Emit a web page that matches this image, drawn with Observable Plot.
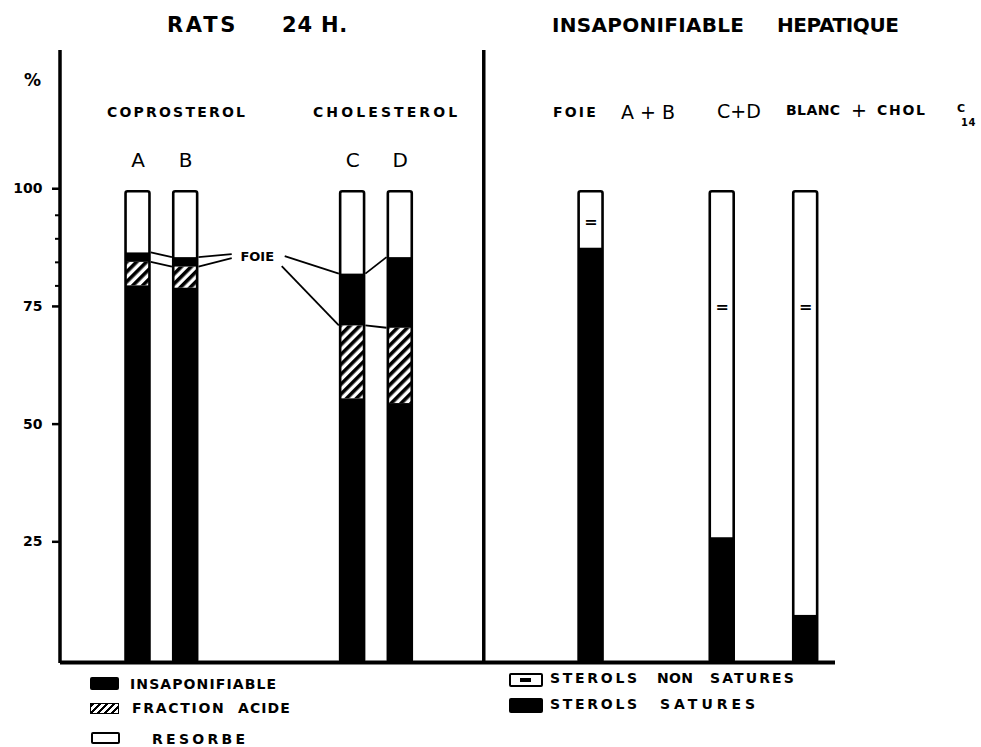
<!DOCTYPE html>
<html><head><meta charset="utf-8">
<script src="https://cdn.jsdelivr.net/npm/d3@7"></script>
<script src="https://cdn.jsdelivr.net/npm/@observablehq/plot@0.6"></script>
<style>
body{margin:0;background:#fff;}
#wrap{position:relative;width:981px;height:747px;font-family:"DejaVu Sans",sans-serif;font-weight:bold;color:#000;}
.t{position:absolute;white-space:nowrap;line-height:1;}
.sw{position:absolute;box-sizing:border-box;}
</style></head><body><div id="wrap"></div>
<script>
// ---- data (% ) ----
const leftBars = ["A", "B", "C", "D"];
const insaponifiable = [80, 79.5, 56, 55];      // black bottom
const fractionAcide = [5, 4.5, 15.5, 16];       // hatched
const foieBand = [2, 2, 11, 15];                // black band "FOIE"
const rightBars = ["A+B", "C+D", "BLANC"];
const sterolsSatures = [88, 26.5, 10];          // black bottom
const nonSatMarkAt = [93.5, 75.5, 75.5];        // "=" symbol level
const total = 100;
const yTicks = [25, 50, 75, 100];
const yMinorTicks = [80, 85, 90, 95];
const foieLabelLevel = 86.2;

// ---- layout: band slots ----
const slotOf = {A: 6, B: 10, FOIE: 16, C: 24, D: 28, DIV: 35, "A+B": 44, "C+D": 55, BLANC: 62};
const nameAt = Object.fromEntries(Object.entries(slotOf).map(([k, v]) => [v, k]));
const slots = d3.range(65).map(i => nameAt[i] ?? "s" + i);
const inset = -6;

// ---- segments ----
const blackSeg = [], hatchSeg = [], whiteSeg = [];
leftBars.forEach((b, i) => {
  const a = insaponifiable[i], h = a + fractionAcide[i], f = h + foieBand[i];
  blackSeg.push({bar: b, y1: 0, y2: a});
  hatchSeg.push({bar: b, y1: a, y2: h});
  blackSeg.push({bar: b, y1: h, y2: f});
  whiteSeg.push({bar: b, y1: f, y2: total});
});
rightBars.forEach((b, i) => {
  blackSeg.push({bar: b, y1: 0, y2: sterolsSatures[i]});
  whiteSeg.push({bar: b, y1: sterolsSatures[i], y2: total});
});
const outlines = [...leftBars, ...rightBars].map(b => ({bar: b, v: total}));
const marks = rightBars.map((b, i) => ({bar: b, v: nonSatMarkAt[i]}));

function extraLines(index, scales, values, dim) {
  const x = scales.x, y = scales.y;
  const bw = x(slots[1]) - x(slots[0]);
  const half = bw / 2 - inset + 1.3;
  const cx = k => x(k) + bw / 2;
  const L = k => cx(k) - half, R = k => cx(k) + half;
  const lvl = leftBars.map((b, i) => ({
    hatchTop: insaponifiable[i] + fractionAcide[i],
    foieTop: insaponifiable[i] + fractionAcide[i] + foieBand[i]
  }));
  const lx = cx("FOIE"), ly = y(foieLabelLevel);
  const segs = [
    [R("A"), y(lvl[0].foieTop), L("B"), y(lvl[1].foieTop)],
    [R("A"), y(lvl[0].hatchTop), L("B"), y(lvl[1].hatchTop)],
    [R("B"), y(lvl[1].foieTop), lx - 25, ly - 2],
    [R("B"), y(lvl[1].hatchTop), lx - 25, ly + 2],
    [lx + 28, ly, L("C"), y(lvl[2].foieTop)],
    [lx + 25, ly + 10, L("C"), y(lvl[2].hatchTop)],
    [R("C"), y(lvl[2].foieTop), L("D"), y(lvl[3].foieTop)],
    [R("C"), y(lvl[2].hatchTop), L("D"), y(lvl[3].hatchTop)]
  ];
  const g = d3.create("svg:g");
  g.append("g").attr("stroke", "black").attr("stroke-width", 1.8).attr("fill", "none")
    .selectAll("line").data(segs).join("line")
    .attr("x1", d => d[0]).attr("y1", d => d[1]).attr("x2", d => d[2]).attr("y2", d => d[3]);
  g.append("line").attr("stroke", "black").attr("stroke-width", 3.5)
    .attr("x1", dim.marginLeft).attr("x2", dim.marginLeft)
    .attr("y1", dim.marginTop).attr("y2", dim.height - dim.marginBottom + 1);
  return g.node();
}

const chart = Plot.plot({
  width: 981, height: 747,
  marginLeft: 60, marginRight: 146, marginTop: 50, marginBottom: 85,
  x: {type: "band", domain: slots, padding: 0, axis: null},
  y: {domain: [0, 130]},
  style: {fontFamily: "DejaVu Sans", fontWeight: "bold", fontSize: "14px", background: "white", color: "black"},
  marks: [
    Plot.axisY({ticks: yTicks, tickSize: 8, tickPadding: 10, strokeWidth: 2.5, fontSize: 14, dy: -3, label: null, tickFormat: d => String(d)}),
    Plot.axisY({ticks: yMinorTicks, tickSize: 5, strokeWidth: 2, label: null, tickFormat: () => ""}),
    Plot.barY(whiteSeg, {x: "bar", y1: "y1", y2: "y2", fill: "white", insetLeft: inset, insetRight: inset}),
    Plot.barY(hatchSeg, {x: "bar", y1: "y1", y2: "y2", fill: "url(#hatch)", insetLeft: inset, insetRight: inset}),
    Plot.barY(blackSeg, {x: "bar", y1: "y1", y2: "y2", fill: "black", insetLeft: inset, insetRight: inset}),
    Plot.barY(outlines, {x: "bar", y1: 0, y2: "v", fill: "none", stroke: "black", strokeWidth: 2.6, rx: 2, insetLeft: inset, insetRight: inset}),
    Plot.text(marks, {x: "bar", y: "v", text: () => "=", fontSize: 16, fontWeight: "bold"}),
    Plot.text(leftBars, {x: d => d, y: () => 106.6, text: d => d, fontSize: 20, fontWeight: "normal", fill: "black"}),
    Plot.text(["FOIE"], {x: d => d, y: () => foieLabelLevel, text: d => d, fontSize: 13, fontWeight: "bold", letterSpacing: 1}),
    Plot.ruleX(["DIV"], {strokeWidth: 3.5}),
    Plot.ruleY([0], {strokeWidth: 4}),
    extraLines
  ]
});
chart.insertAdjacentHTML("afterbegin",
  `<defs><pattern id="hatch" patternUnits="userSpaceOnUse" width="7" height="7" patternTransform="rotate(45)">
     <rect width="7" height="7" fill="white"/><line x1="1.8" y1="0" x2="1.8" y2="7" stroke="black" stroke-width="3.6"/>
   </pattern></defs>`);
const wrap = document.getElementById("wrap");
wrap.appendChild(chart);
chart.style.position = "absolute"; chart.style.left = "0"; chart.style.top = "0";

function label(html, left, cy, fs, extra = "") {
  const d = document.createElement("div");
  d.className = "t";
  d.style.cssText = `left:${left}px;top:${cy - 0.48 * fs}px;font-size:${fs}px;${extra}`;
  d.innerHTML = html;
  wrap.appendChild(d);
}
function swatch(left, top, w, h, css) {
  const d = document.createElement("div");
  d.className = "sw";
  d.style.cssText = `left:${left}px;top:${top}px;width:${w}px;height:${h}px;${css}`;
  wrap.appendChild(d);
  return d;
}
const reg = "font-family:'DejaVu Sans';font-weight:normal;";
// titles
label("RATS", 167, 25, 21, "letter-spacing:2.7px");
label("24 H.", 282, 25, 21, "letter-spacing:0.8px");
label("INSAPONIFIABLE", 552, 25, 20, "letter-spacing:0.3px");
label("HEPATIQUE", 777, 25, 20, "letter-spacing:-0.4px");
label("%", 24, 80, 17);
// group headers
label("COPROSTEROL", 107, 112, 14, "letter-spacing:2.2px");
label("CHOLESTEROL", 313, 112, 14, "letter-spacing:3.1px");
label("FOIE", 553, 112, 14, "letter-spacing:2.2px");
label("A + B", 621, 112, 19, reg);
label("C+D", 717, 111, 19, reg);
label("BLANC", 786, 110, 14, "letter-spacing:0.4px");
label("+", 851, 110, 19, reg);
label("CHOL", 877, 110, 14, "letter-spacing:1.7px");
label("C", 957, 108, 11);
label("14", 961, 123, 10, "letter-spacing:0.5px");

// legend left
swatch(90, 677, 29, 13, "background:black;border-radius:2px;");
swatch(90, 703, 29, 11, "background:repeating-linear-gradient(135deg,black 0 2.5px,white 2.5px 5px);border:1.5px solid black;");
swatch(91, 732, 29, 12, "border:2.2px solid black;border-radius:2px;");
label("INSAPONIFIABLE", 130, 683.5, 14, "letter-spacing:1.1px");
label("FRACTION", 132, 707.5, 14, "letter-spacing:1.7px");
label("ACIDE", 238, 707.5, 14, "letter-spacing:1.1px");
label("RESORBE", 152, 738.5, 14, "letter-spacing:3.3px");

// legend right
const s1 = swatch(509, 673, 34, 14, "border:2.5px solid black;border-radius:2px;");
s1.innerHTML = "<div style='position:absolute;left:9px;top:2.5px;width:11px;height:4px;border-top:2px solid black;border-bottom:2px solid black;box-sizing:border-box'></div>";
swatch(509, 698, 34, 15, "background:black;border-radius:2px;");
label("STEROLS", 550, 678, 14, "letter-spacing:2.7px");
label("NON", 657, 678, 14, "letter-spacing:0.3px");
label("SATURES", 710, 678, 14, "letter-spacing:2.1px");
label("STEROLS", 550, 704, 14, "letter-spacing:2.7px");
label("SATURES", 660, 704, 14, "letter-spacing:4px");
</script></body></html>
